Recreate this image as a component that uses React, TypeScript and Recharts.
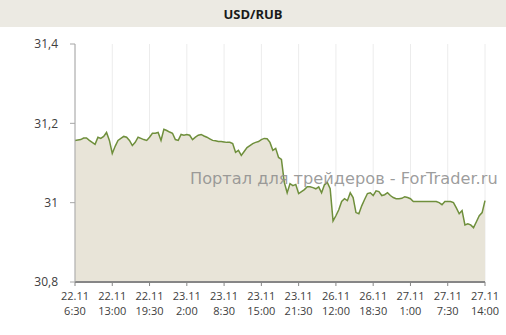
import React from "react";
import { AreaChart, Area, XAxis, YAxis, CartesianGrid } from "recharts";

// tick labels (one every 13 half-hour points)
const tickDates = ["22.11", "22.11", "22.11", "23.11", "23.11", "23.11", "23.11", "26.11", "26.11", "27.11", "27.11", "27.11"];
const tickTimes = ["6:30", "13:00", "19:30", "2:00", "8:30", "15:00", "21:30", "12:00", "18:30", "1:00", "7:30", "14:00"];

// USD/RUB, half-hour closes
const rates = [
  31.157, 31.158, 31.159, 31.163, 31.163, 31.157, 31.152, 31.147, 31.165, 31.162,
  31.167, 31.177, 31.157, 31.124, 31.142, 31.157, 31.162, 31.167, 31.165, 31.157,
  31.144, 31.152, 31.165, 31.162, 31.159, 31.157, 31.165, 31.175, 31.175, 31.177,
  31.157, 31.185, 31.182, 31.178, 31.175, 31.159, 31.157, 31.172, 31.170, 31.172,
  31.170, 31.159, 31.165, 31.170, 31.172, 31.168, 31.165, 31.161, 31.157, 31.156,
  31.154, 31.154, 31.153, 31.152, 31.152, 31.149, 31.127, 31.132, 31.119, 31.129,
  31.139, 31.144, 31.149, 31.152, 31.154, 31.159, 31.162, 31.161, 31.152, 31.132,
  31.137, 31.114, 31.109, 31.051, 31.025, 31.048, 31.043, 31.046, 31.023, 31.028,
  31.033, 31.040, 31.040, 31.038, 31.035, 31.040, 31.025, 31.045, 31.051, 31.035,
  30.954, 30.967, 30.982, 31.003, 31.010, 31.005, 31.025, 31.013, 30.975, 30.972,
  30.992, 31.008, 31.023, 31.025, 31.018, 31.030, 31.028, 31.018, 31.020, 31.025,
  31.018, 31.013, 31.010, 31.010, 31.011, 31.015, 31.013, 31.010, 31.003, 31.003,
  31.003, 31.003, 31.003, 31.003, 31.003, 31.003, 31.003, 31.000, 30.995, 31.003,
  31.003, 31.003, 31.000, 30.987, 30.972, 30.980, 30.944, 30.947, 30.944, 30.937,
  30.952, 30.967, 30.975, 31.005,
];

const yTicks = [30.8, 31, 31.2, 31.4];
const STEP = 13;

const data = rates.map((v, i) => ({ i, v }));
const xTicks = tickDates.map((_, k) => k * STEP);

const XTick = ({ x, y, payload }: any) => {
  const k = Math.round(payload.value / STEP);
  return (
    <text x={x} y={y} textAnchor="middle" fontSize={11} fill="#404040" fontFamily="Open Sans">
      <tspan x={x} dy={12}>{tickDates[k]}</tspan>
      <tspan x={x} dy={15}>{tickTimes[k]}</tspan>
    </text>
  );
};

export default function App() {
  return (
    <div style={{ position: "absolute", left: 0, top: 0, width: 506, height: 335, background: "#fff" }}>
      <div
        style={{
          position: "absolute",
          left: 0,
          top: 0,
          width: 506,
          height: 27,
          background: "#ECEAE3",
          textAlign: "center",
          lineHeight: "28px",
          fontFamily: "Open Sans",
          fontWeight: "bold",
          fontSize: 13,
          color: "#1a1a1a",
        }}
      >
        USD/RUB
      </div>
      <div style={{ position: "absolute", left: 0, top: 0 }}>
        <AreaChart width={506} height={335} data={data} margin={{ top: 44, right: 21, left: 0, bottom: 0 }}>
          <CartesianGrid horizontal={false} stroke="#ececec" />
          <XAxis
            dataKey="i"
            type="number"
            domain={[0, 143]}
            ticks={xTicks}
            tick={<XTick />}
            tickSize={4}
            tickLine={{ stroke: "#868686" }}
            axisLine={{ stroke: "#868686", strokeWidth: 2 }}
            height={53}
            interval={0}
          />
          <YAxis
            domain={[30.8, 31.4]}
            ticks={yTicks}
            width={75}
            tickSize={5}
            tickMargin={12}
            axisLine={{ stroke: "#a6a6a6" }}
            tickLine={{ stroke: "#a6a6a6" }}
            tick={{ fontSize: 12, fill: "#404040", fontFamily: "Open Sans" }}
            tickFormatter={(v: number) => String(v).replace(".", ",")}
          />
          <Area
            type="linear"
            dataKey="v"
            baseValue={30.8}
            stroke="#6f8f3c"
            strokeWidth={1.5}
            fill="#E8E4D8"
            fillOpacity={1}
            isAnimationActive={false}
            dot={false}
            activeDot={false}
          />
        </AreaChart>
      </div>
      <div
        style={{
          position: "absolute",
          left: 190,
          top: 169,
          fontFamily: "DejaVu Sans",
          fontSize: 16.2,
          color: "rgba(140,140,140,0.85)",
          whiteSpace: "nowrap",
        }}
      >
        Портал для трейдеров - ForTrader.ru
      </div>
    </div>
  );
}
